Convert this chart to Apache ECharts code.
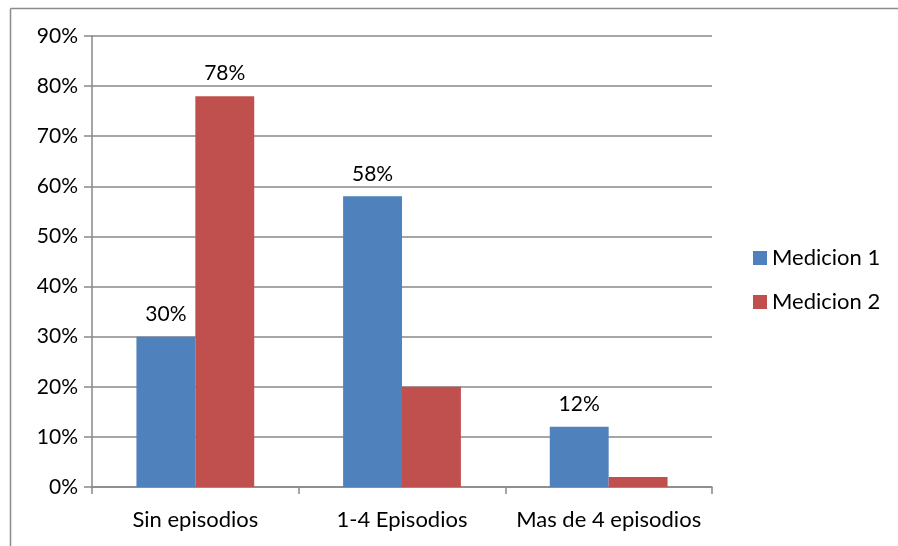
<!DOCTYPE html>
<html>
<head>
<meta charset="utf-8">
<script src="https://cdn.jsdelivr.net/npm/echarts@6/dist/echarts.min.js"></script>
<style>
html,body{margin:0;padding:0;background:#fff;}
#chart{width:898px;height:546px;}
</style>
</head>
<body>
<div id="chart"></div>
<script>
// Episodes per group, two measurements (fractions)
const categories = ['Sin episodios', '1-4 Episodios', 'Mas de 4 episodios'];
const medicion1 = [0.30, 0.58, 0.12];
const medicion2 = [0.78, 0.20, 0.02];
// which bars carry a value label
const labeled1 = [true, true, true];
const labeled2 = [true, false, false];
const yTicks = [0, 0.9, 0.1];

const FONT = 'Lato, "Open Sans", sans-serif';
const gridColor = '#888888';

function pct(v) { return Math.round(v * 100) + '%'; }

function seriesData(vals, flags) {
  return vals.map((v, i) => ({
    value: v,
    label: { show: flags[i] }
  }));
}

const valueLabel = {
  position: 'top', distance: 12, fontSize: 21, color: '#000',
  formatter: p => pct(p.value), fontFamily: FONT
};

// chart-area frame: top and left edges
const frameStyle = { stroke: '#8c8c8c', lineWidth: 1.5 };

const chart = echarts.init(document.getElementById('chart'));
chart.setOption({
  animation: false,
  backgroundColor: '#ffffff',
  textStyle: { fontFamily: FONT },
  graphic: [
    { type: 'line', shape: { x1: 10.5, y1: 8.5, x2: 898, y2: 8.5 }, style: frameStyle, silent: true },
    { type: 'line', shape: { x1: 10.5, y1: 8.5, x2: 10.5, y2: 546 }, style: frameStyle, silent: true }
  ],
  grid: { left: 92, right: 186, top: 36, bottom: 59 },
  legend: {
    orient: 'vertical',
    left: 753,
    top: 247,
    padding: 0,
    itemWidth: 14,
    itemHeight: 14,
    itemGap: 22,
    icon: 'rect',
    textStyle: { fontSize: 22, color: '#000', fontFamily: FONT },
    data: ['Medicion 1', 'Medicion 2']
  },
  xAxis: {
    type: 'category',
    data: categories,
    axisLine: { lineStyle: { color: gridColor, width: 1.5 } },
    axisTick: { show: true, length: 7, lineStyle: { color: gridColor, width: 1.5 } },
    axisLabel: { fontSize: 22, color: '#000', margin: 22, interval: 0, fontFamily: FONT }
  },
  yAxis: {
    type: 'value',
    min: yTicks[0],
    max: yTicks[1],
    interval: yTicks[2],
    axisLine: { show: true, lineStyle: { color: gridColor, width: 1.5 } },
    axisTick: { show: true, inside: false, length: 8, lineStyle: { color: gridColor, width: 1.5 } },
    splitLine: { show: true, lineStyle: { color: gridColor, width: 1.5 } },
    axisLabel: { fontSize: 21, color: '#000', margin: 14, formatter: pct, fontFamily: FONT }
  },
  series: [
    {
      name: 'Medicion 1',
      type: 'bar',
      data: seriesData(medicion1, labeled1),
      barGap: '0%',
      barCategoryGap: '43%',
      itemStyle: { color: '#4F81BD' },
      label: valueLabel
    },
    {
      name: 'Medicion 2',
      type: 'bar',
      data: seriesData(medicion2, labeled2),
      barGap: '0%',
      barCategoryGap: '43%',
      itemStyle: { color: '#C0504D' },
      label: valueLabel
    }
  ]
});
</script>
</body>
</html>
